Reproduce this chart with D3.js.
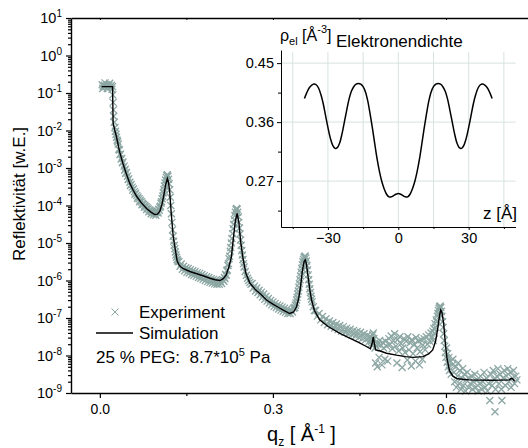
<!DOCTYPE html>
<html>
<head>
<meta charset="utf-8">
<script src="https://cdn.jsdelivr.net/npm/d3@7"></script>
<style>
  body { margin: 0; background: #fff; }
  svg { display: block; font-family: Arial, "Liberation Sans", Helvetica, sans-serif; }
  .axis path, .axis line { stroke: #000; }
  .axis text { fill: #000; }
</style>
</head>
<body>
<svg id="chart" width="528" height="448"></svg>
<script>
// reflectivity: decade exponents on the log axis
const decades = [-9, -8, -7, -6, -5, -4, -3, -2, -1, 0, 1]
const qTicks = [0.0, 0.3, 0.6]
const qMinorTicks = [0.15, 0.45]

// simulation curve, [q_z, log10 R]
const simulation = [
  [0.003, -0.83], [0.022, -0.83], [0.0225, -1.3], [0.023, -1.8], [0.026, -2.0], [0.029, -2.18],
  [0.034, -2.55], [0.040, -2.88], [0.046, -3.16], [0.052, -3.41], [0.058, -3.60], [0.064, -3.76],
  [0.072, -3.93], [0.081, -4.08], [0.088, -4.17], [0.095, -4.24], [0.100, -4.23], [0.104, -4.15],
  [0.108, -3.95], [0.111, -3.72], [0.114, -3.45], [0.117, -3.28], [0.119, -3.38], [0.121, -3.62],
  [0.124, -4.25], [0.127, -4.80], [0.130, -5.10], [0.134, -5.48], [0.138, -5.60], [0.144, -5.68],
  [0.156, -5.76], [0.168, -5.82], [0.180, -5.88], [0.191, -5.94], [0.200, -5.98], [0.208, -6.00],
  [0.214, -5.95], [0.219, -5.85], [0.224, -5.62], [0.228, -5.38], [0.232, -4.80], [0.235, -4.40],
  [0.238, -4.21], [0.241, -4.45], [0.244, -4.95], [0.248, -5.40], [0.253, -5.80], [0.260, -6.07],
  [0.270, -6.25], [0.280, -6.38], [0.289, -6.52], [0.300, -6.63], [0.310, -6.72], [0.318, -6.79],
  [0.329, -6.88], [0.336, -6.84], [0.341, -6.70], [0.345, -6.45], [0.348, -6.15], [0.351, -5.75],
  [0.354, -5.50], [0.356, -5.45], [0.358, -5.55], [0.361, -5.90], [0.364, -6.25], [0.367, -6.52],
  [0.372, -6.80], [0.381, -7.05], [0.395, -7.22], [0.416, -7.41], [0.435, -7.55], [0.451, -7.67],
  [0.462, -7.76], [0.469, -7.82], [0.472, -7.68], [0.474, -7.50], [0.476, -7.70], [0.478, -7.85],
  [0.486, -7.88], [0.497, -7.94], [0.514, -7.99], [0.530, -8.03], [0.543, -8.05], [0.560, -8.03],
  [0.570, -7.96], [0.577, -7.85], [0.582, -7.62], [0.586, -7.25], [0.589, -6.92], [0.591, -6.79],
  [0.593, -6.85], [0.596, -7.15], [0.599, -7.70], [0.602, -8.10], [0.606, -8.40], [0.612, -8.55],
  [0.620, -8.62], [0.640, -8.65], [0.680, -8.66], [0.710, -8.65], [0.713, -8.61], [0.716, -8.63],
  [0.719, -8.69]
]

// measured points, [q_z, log10 R]
const experiment = [
  [0.004, -0.78], [0.005, -0.88], [0.006, -0.82], [0.008, -0.79], [0.009, -0.73], [0.010, -0.83],
  [0.012, -0.78], [0.013, -0.88], [0.014, -0.82], [0.016, -0.79], [0.017, -0.74], [0.018, -0.84],
  [0.020, -0.80], [0.021, -0.90], [0.022, -0.83],
  [0.0225, -1.05], [0.023, -1.25], [0.0235, -1.45], [0.024, -1.62], [0.025, -1.78], [0.026, -1.92],
  [0.027, -2.02], [0.028, -2.10], [0.029, -2.18], [0.030, -2.26],
  [0.031, -2.30], [0.032, -2.36], [0.033, -2.50], [0.034, -2.52], [0.035, -2.64], [0.036, -2.63],
  [0.037, -2.76], [0.038, -2.74], [0.039, -2.86], [0.040, -2.84], [0.042, -2.95], [0.043, -3.06],
  [0.044, -3.03], [0.045, -3.14], [0.046, -3.12], [0.048, -3.22], [0.049, -3.31], [0.050, -3.29],
  [0.052, -3.38], [0.053, -3.47], [0.054, -3.44], [0.056, -3.51], [0.057, -3.59], [0.058, -3.56],
  [0.060, -3.63], [0.061, -3.70], [0.062, -3.67], [0.064, -3.73], [0.065, -3.81], [0.066, -3.77],
  [0.068, -3.82], [0.069, -3.90], [0.070, -3.86], [0.072, -3.90], [0.073, -3.98], [0.074, -3.94],
  [0.076, -3.97], [0.077, -4.05], [0.078, -4.00], [0.080, -4.03], [0.081, -4.11], [0.082, -4.06],
  [0.084, -4.09], [0.085, -4.17], [0.086, -4.12], [0.088, -4.14], [0.089, -4.22], [0.090, -4.16],
  [0.092, -4.18], [0.093, -4.25], [0.094, -4.20], [0.096, -4.20], [0.097, -4.26], [0.098, -4.18],
  [0.100, -4.16], [0.101, -4.20], [0.102, -4.10], [0.103, -4.13], [0.104, -4.05], [0.105, -4.02],
  [0.106, -3.94], [0.107, -3.90], [0.108, -3.82], [0.109, -3.75], [0.110, -3.66], [0.111, -3.58],
  [0.112, -3.48], [0.113, -3.40], [0.114, -3.32], [0.115, -3.25], [0.116, -3.20], [0.117, -3.18],
  [0.118, -3.22], [0.119, -3.30], [0.120, -3.42], [0.121, -3.58], [0.122, -3.78], [0.123, -4.00],
  [0.124, -4.22], [0.125, -4.45], [0.126, -4.65], [0.127, -4.82], [0.128, -4.95], [0.129, -5.06],
  [0.130, -5.15], [0.131, -5.24], [0.132, -5.32], [0.133, -5.38], [0.134, -5.44], [0.135, -5.48],
  [0.137, -5.50], [0.139, -5.62], [0.141, -5.56], [0.143, -5.70], [0.145, -5.62], [0.147, -5.74],
  [0.149, -5.66], [0.151, -5.78], [0.153, -5.68], [0.155, -5.80], [0.157, -5.71], [0.159, -5.84],
  [0.161, -5.74], [0.163, -5.86], [0.165, -5.76], [0.167, -5.89], [0.169, -5.79], [0.171, -5.92],
  [0.173, -5.81], [0.175, -5.94], [0.177, -5.84], [0.179, -5.97], [0.181, -5.87], [0.183, -6.00],
  [0.185, -5.90], [0.187, -6.03], [0.189, -5.92], [0.191, -6.05], [0.193, -5.95], [0.195, -6.07],
  [0.197, -5.97], [0.199, -6.09], [0.201, -5.99], [0.203, -6.10], [0.205, -6.00], [0.207, -6.10],
  [0.209, -6.02], [0.211, -6.08], [0.213, -5.98], [0.215, -6.02],
  [0.216, -5.92], [0.217, -5.95], [0.218, -5.84], [0.219, -5.86], [0.220, -5.74], [0.221, -5.72],
  [0.222, -5.60], [0.223, -5.55], [0.224, -5.42], [0.225, -5.35], [0.226, -5.22], [0.227, -5.12],
  [0.228, -5.00], [0.229, -4.88], [0.230, -4.75], [0.231, -4.62], [0.232, -4.50], [0.233, -4.38],
  [0.234, -4.27], [0.235, -4.18], [0.236, -4.11], [0.237, -4.08], [0.238, -4.10], [0.239, -4.18],
  [0.240, -4.30], [0.241, -4.45], [0.242, -4.60], [0.243, -4.76], [0.244, -4.92], [0.245, -5.06],
  [0.246, -5.20], [0.247, -5.32], [0.248, -5.44], [0.249, -5.55], [0.250, -5.64], [0.252, -5.76],
  [0.254, -5.86], [0.256, -5.94], [0.258, -6.00], [0.260, -6.05], [0.262, -6.10],
  [0.264, -6.08], [0.266, -6.20], [0.268, -6.15], [0.270, -6.28], [0.272, -6.20], [0.274, -6.32],
  [0.276, -6.26], [0.278, -6.38], [0.280, -6.31], [0.282, -6.44], [0.284, -6.36], [0.286, -6.50],
  [0.288, -6.42], [0.290, -6.55], [0.292, -6.48], [0.294, -6.60], [0.296, -6.53], [0.298, -6.65],
  [0.300, -6.57], [0.302, -6.69], [0.304, -6.61], [0.306, -6.72], [0.308, -6.65], [0.310, -6.76],
  [0.312, -6.68], [0.314, -6.79], [0.316, -6.71], [0.318, -6.82], [0.320, -6.74], [0.322, -6.85],
  [0.324, -6.77], [0.326, -6.88], [0.328, -6.80], [0.330, -6.88], [0.332, -6.80], [0.334, -6.84],
  [0.336, -6.74], [0.338, -6.72],
  [0.339, -6.66], [0.340, -6.60], [0.341, -6.52], [0.342, -6.45], [0.343, -6.36], [0.344, -6.28],
  [0.345, -6.18], [0.346, -6.08], [0.347, -5.98], [0.348, -5.88], [0.349, -5.78], [0.350, -5.68],
  [0.351, -5.58], [0.352, -5.50], [0.353, -5.44], [0.354, -5.39], [0.355, -5.36], [0.356, -5.35],
  [0.357, -5.40], [0.358, -5.48], [0.359, -5.60], [0.360, -5.72], [0.361, -5.85], [0.362, -5.98],
  [0.363, -6.10], [0.364, -6.22], [0.365, -6.32], [0.366, -6.42], [0.367, -6.50], [0.368, -6.57],
  [0.370, -6.70], [0.372, -6.80],
  [0.374, -6.80], [0.377, -6.95], [0.380, -6.88], [0.383, -7.05], [0.386, -6.96], [0.389, -7.12],
  [0.392, -7.02], [0.395, -7.18], [0.398, -7.08], [0.401, -7.22], [0.404, -7.12], [0.407, -7.27],
  [0.410, -7.16], [0.413, -7.31], [0.416, -7.20], [0.419, -7.35], [0.422, -7.23], [0.425, -7.38],
  [0.428, -7.27], [0.431, -7.42], [0.434, -7.30], [0.437, -7.45], [0.440, -7.33], [0.443, -7.48],
  [0.446, -7.36], [0.449, -7.52], [0.452, -7.38], [0.455, -7.55], [0.458, -7.42], [0.461, -7.58],
  [0.464, -7.46], [0.467, -7.62],
  [0.469, -7.50], [0.470, -7.70], [0.471, -7.62], [0.472, -7.55], [0.473, -7.45], [0.474, -7.40],
  [0.475, -7.55], [0.476, -7.68], [0.477, -7.80], [0.478, -8.20], [0.479, -7.75], [0.481, -8.30],
  [0.482, -7.70], [0.484, -8.05], [0.485, -7.60], [0.487, -7.72], [0.489, -8.25], [0.490, -7.65],
  [0.492, -7.80], [0.494, -8.10], [0.495, -7.62], [0.497, -7.75], [0.499, -8.15],
  [0.501, -7.55], [0.503, -7.70], [0.505, -7.48], [0.507, -7.82], [0.509, -7.60], [0.511, -7.42],
  [0.513, -7.75], [0.515, -8.20], [0.516, -7.58], [0.518, -7.88], [0.520, -7.50], [0.522, -7.68],
  [0.524, -8.32], [0.525, -7.80], [0.527, -7.55], [0.529, -7.92], [0.531, -7.62], [0.533, -8.12],
  [0.534, -7.50], [0.536, -7.85], [0.538, -7.66], [0.540, -8.28], [0.541, -7.58], [0.543, -7.95],
  [0.545, -7.70], [0.547, -8.15], [0.548, -7.52], [0.550, -7.80], [0.552, -7.62], [0.554, -8.25],
  [0.555, -7.90], [0.557, -7.58], [0.559, -8.10], [0.560, -7.72], [0.562, -7.55], [0.564, -7.85],
  [0.566, -7.50], [0.568, -7.70], [0.570, -7.45], [0.572, -7.62], [0.574, -7.40],
  [0.576, -7.50], [0.577, -7.35], [0.578, -7.60], [0.579, -7.28], [0.580, -7.40], [0.581, -7.15],
  [0.582, -7.25], [0.583, -7.05], [0.584, -7.10], [0.585, -6.95], [0.586, -6.88], [0.587, -6.80],
  [0.588, -6.74], [0.589, -6.70], [0.590, -6.68], [0.591, -6.72], [0.592, -6.82], [0.593, -6.95],
  [0.594, -7.10], [0.595, -7.25], [0.596, -7.42], [0.597, -7.60], [0.598, -7.75], [0.599, -7.92],
  [0.600, -8.05], [0.601, -7.80], [0.602, -8.18], [0.603, -7.95], [0.604, -8.30], [0.605, -8.05],
  [0.606, -8.40], [0.608, -8.15], [0.609, -8.50], [0.611, -8.25],
  [0.612, -8.10], [0.614, -8.45], [0.615, -8.70], [0.617, -8.30], [0.618, -8.85], [0.620, -8.55],
  [0.621, -8.20], [0.623, -8.75], [0.624, -8.40], [0.626, -8.90], [0.627, -8.60], [0.629, -8.35],
  [0.630, -8.80], [0.632, -8.50], [0.634, -8.95], [0.635, -8.65], [0.637, -8.45], [0.639, -8.85],
  [0.640, -8.60], [0.642, -8.75], [0.644, -8.55], [0.646, -8.90], [0.648, -8.70], [0.650, -8.50],
  [0.652, -8.85], [0.654, -8.65], [0.656, -8.95], [0.658, -8.75], [0.660, -8.55], [0.662, -8.90],
  [0.664, -8.70], [0.666, -8.45], [0.668, -8.85], [0.670, -8.60], [0.672, -8.95], [0.674, -8.75],
  [0.676, -9.20], [0.678, -8.50], [0.680, -8.80], [0.682, -8.40], [0.684, -8.65], [0.685, -9.50],
  [0.686, -8.90], [0.688, -8.55], [0.690, -8.35], [0.692, -8.75], [0.694, -8.50], [0.696, -8.90],
  [0.697, -9.20], [0.699, -8.60], [0.701, -8.40], [0.703, -8.80], [0.705, -8.55], [0.707, -8.35],
  [0.709, -8.70], [0.711, -8.45], [0.713, -8.85], [0.715, -8.60], [0.717, -8.40], [0.719, -8.75],
  [0.721, -8.55], [0.723, -8.65]
]

// inset: electron density profile
const profileZ = [
  -40, -39, -38, -37, -36, -35, -34, -33, -32, -31, -30, -29, -28, -27, -26, -25, -24, -23, -22, -21,
  -20, -19, -18, -17, -16, -15, -14, -13, -12, -11, -10, -9, -8, -7, -6, -5, -4, -3, -2, -1, 0,
  1, 2, 3, 4, 5, 6, 7, 8, 9, 10, 11, 12, 13, 14, 15, 16, 17, 18, 19, 20,
  21, 22, 23, 24, 25, 26, 27, 28, 29, 30, 31, 32, 33, 34, 35, 36, 37, 38, 39, 40
]
const profileRho = [
  0.396, 0.405, 0.412, 0.416, 0.418, 0.417, 0.412, 0.402, 0.388, 0.370, 0.352, 0.336, 0.325, 0.320,
  0.321, 0.328, 0.342, 0.360, 0.378, 0.395, 0.407, 0.414, 0.418, 0.419, 0.418, 0.414, 0.406, 0.392,
  0.372, 0.350, 0.326, 0.303, 0.284, 0.269, 0.258, 0.250, 0.246, 0.246, 0.248, 0.250, 0.251,
  0.250, 0.248, 0.246, 0.246, 0.250, 0.258, 0.269, 0.284, 0.303, 0.326, 0.350, 0.372, 0.392,
  0.406, 0.414, 0.418, 0.419, 0.418, 0.414, 0.407, 0.395, 0.378, 0.360, 0.342, 0.328, 0.321,
  0.320, 0.325, 0.336, 0.352, 0.370, 0.388, 0.402, 0.412, 0.417, 0.418, 0.416, 0.412, 0.405, 0.396
]
const zTicks = [-30, 0, 30]
const zGrid = [-45, -30, -15, 0, 15, 30, 45]
const rhoTicks = [0.27, 0.36, 0.45]
const rhoMinorTicks = [0.225, 0.315, 0.405]

const svg = d3.select("#chart")
const markColor = "#8ca7a3"

// main panel scales
const x = d3.scaleLinear().domain([-0.05, 0.75]).range([71, 532.5])
const y = d3.scaleLog().domain([1e-9, 10]).range([393, 18])
const yOf = d => y(Math.pow(10, d[1]))

// experiment crosses
const cross = "M-3.5,-3.5L3.5,3.5M-3.5,3.5L3.5,-3.5"
svg.append("g")
  .selectAll("path")
  .data(experiment)
  .join("path")
  .attr("transform", d => `translate(${x(d[0])},${yOf(d)})`)
  .attr("d", cross)
  .attr("fill", "none")
  .attr("stroke", markColor)
  .attr("stroke-width", 1.3)

// simulation line
svg.append("path")
  .datum(simulation)
  .attr("fill", "none")
  .attr("stroke", "#000")
  .attr("stroke-width", 1.4)
  .attr("d", d3.line().x(d => x(d[0])).y(yOf))

// axes
const majorY = decades.map(e => Math.pow(10, e))
const minorY = []
decades.slice(0, -1).forEach(e => { for (let k = 2; k < 10; k++) minorY.push(k * Math.pow(10, e)) })

const yAxis = svg.append("g").attr("class", "axis").attr("transform", "translate(71,0)")
yAxis.call(d3.axisLeft(y).tickValues(majorY).tickFormat("").tickSize(5).tickSizeOuter(0))
yAxis.append("g").call(d3.axisLeft(y).tickValues(minorY).tickFormat("").tickSize(3))
  .call(g => g.select(".domain").remove())
yAxis.selectAll("line").attr("stroke-width", 1.2)
yAxis.select(".domain").attr("stroke-width", 1.4)

decades.forEach(e => {
  const t = svg.append("text")
    .attr("x", 62).attr("y", y(Math.pow(10, e)) + 5)
    .attr("text-anchor", "end")
    .attr("font-size", 14.5)
  t.append("tspan").text("10")
  t.append("tspan").attr("dy", -6).attr("font-size", 10).text(e < 0 ? "-" + (-e) : e)
})

const xAxis = svg.append("g").attr("class", "axis").attr("transform", "translate(0,393)")
xAxis.call(d3.axisBottom(x).tickValues(qTicks).tickFormat(d3.format(".1f")).tickSize(5).tickSizeOuter(0))
xAxis.append("g").call(d3.axisBottom(x).tickValues(qMinorTicks).tickFormat("").tickSize(3))
  .call(g => g.select(".domain").remove())
xAxis.selectAll("text").attr("font-size", 14).attr("font-family", "Arial, 'Liberation Sans', sans-serif").attr("dy", "0.95em")
xAxis.select(".domain").attr("stroke-width", 1.4)
xAxis.selectAll("line").attr("stroke-width", 1.2)

const topAxis = svg.append("g").attr("class", "axis").attr("transform", "translate(0,18)")
topAxis.call(d3.axisTop(x).tickValues(qTicks.concat(qMinorTicks)).tickFormat("").tickSize(-2).tickSizeOuter(0))
topAxis.select(".domain").attr("stroke-width", 1.4)

// axis titles
svg.append("text")
  .attr("transform", "translate(25,194) rotate(-90)")
  .attr("text-anchor", "middle")
  .attr("font-size", 17)
  .text("Reflektivität [w.E.]")

const xTitle = svg.append("text")
  .attr("x", 267).attr("y", 441)
  .attr("font-size", 20)
xTitle.append("tspan").text("q")
xTitle.append("tspan").attr("dy", 5).attr("font-size", 12).text("z")
xTitle.append("tspan").attr("dy", -5).text(" [ Å")
xTitle.append("tspan").attr("dy", -8).attr("font-size", 12).text("-1")
xTitle.append("tspan").attr("dy", 8).text(" ]")

// legend
svg.append("path")
  .attr("transform", "translate(115,312)")
  .attr("d", cross)
  .attr("fill", "none")
  .attr("stroke", markColor)
svg.append("line")
  .attr("x1", 96).attr("x2", 133).attr("y1", 333).attr("y2", 333)
  .attr("stroke", "#000").attr("stroke-width", 1.4)
svg.append("text").attr("x", 139).attr("y", 318).attr("font-size", 17).text("Experiment")
svg.append("text").attr("x", 139).attr("y", 339).attr("font-size", 17).text("Simulation")
const note = svg.append("text").attr("x", 96).attr("y", 363).attr("font-size", 17)
note.append("tspan").text("25 % PEG:\u00a0\u00a08.7*10")
note.append("tspan").attr("dy", -7).attr("font-size", 11).text("5")
note.append("tspan").attr("dy", 7).text("\u00a0Pa")

// inset
const zx = d3.scaleLinear().domain([-50, 50]).range([281, 515.6])
const ry = d3.scaleLinear().domain([0.2, 0.47]).range([227, 50])

const grid = svg.append("g")
grid.selectAll(".vg").data(zGrid).join("line")
  .attr("x1", d => zx(d)).attr("x2", d => zx(d))
  .attr("y1", ry(0.47) + 2).attr("y2", ry(0.2))
  .attr("stroke", "#d6e3e1").attr("stroke-width", 1)
grid.selectAll(".hg").data(rhoTicks).join("line")
  .attr("x1", zx(-50)).attr("x2", zx(50))
  .attr("y1", d => ry(d)).attr("y2", d => ry(d))
  .attr("stroke", "#d6e3e1").attr("stroke-width", 1)

svg.append("path")
  .datum(profileZ.map((z, i) => [z, profileRho[i]]))
  .attr("fill", "none")
  .attr("stroke", "#000")
  .attr("stroke-width", 1.5)
  .attr("d", d3.line().x(d => zx(d[0])).y(d => ry(d[1])).curve(d3.curveCatmullRom))

const insetY = svg.append("g").attr("class", "axis").attr("transform", `translate(${zx(-50)},0)`)
insetY.call(d3.axisLeft(ry).tickValues(rhoTicks).tickFormat(d3.format(".2f")).tickSize(4).tickSizeOuter(0))
insetY.append("g").call(d3.axisLeft(ry).tickValues(rhoMinorTicks).tickFormat("").tickSize(3))
  .call(g => g.select(".domain").remove())
insetY.selectAll("text").attr("font-size", 14.5).attr("font-family", "Arial, 'Liberation Sans', sans-serif")

const insetX = svg.append("g").attr("class", "axis").attr("transform", `translate(0,${ry(0.2)})`)
insetX.call(d3.axisBottom(zx).tickValues(zTicks).tickFormat(d3.format("d")).tickSize(3).tickSizeOuter(0))
insetX.append("g").call(d3.axisBottom(zx).tickValues([-45, -15, 15, 45]).tickFormat("").tickSize(2))
  .call(g => g.select(".domain").remove())
insetX.selectAll("text").attr("font-size", 14.5).attr("font-family", "Arial, 'Liberation Sans', sans-serif")

const rhoTitle = svg.append("text").attr("x", 280).attr("y", 41).attr("font-size", 16)
rhoTitle.append("tspan").text("ρ")
rhoTitle.append("tspan").attr("dy", 4).attr("font-size", 11).text("el")
rhoTitle.append("tspan").attr("dy", -4).text(" [Å")
rhoTitle.append("tspan").attr("dy", -8).attr("font-size", 11).text("-3")
rhoTitle.append("tspan").attr("dy", 8).text("]")

svg.append("text").attr("x", 336).attr("y", 47).attr("font-size", 17).text("Elektronendichte")
svg.append("text").attr("x", 517).attr("y", 219).attr("text-anchor", "end").attr("font-size", 17).text("z [Å]")
</script>
</body>
</html>
